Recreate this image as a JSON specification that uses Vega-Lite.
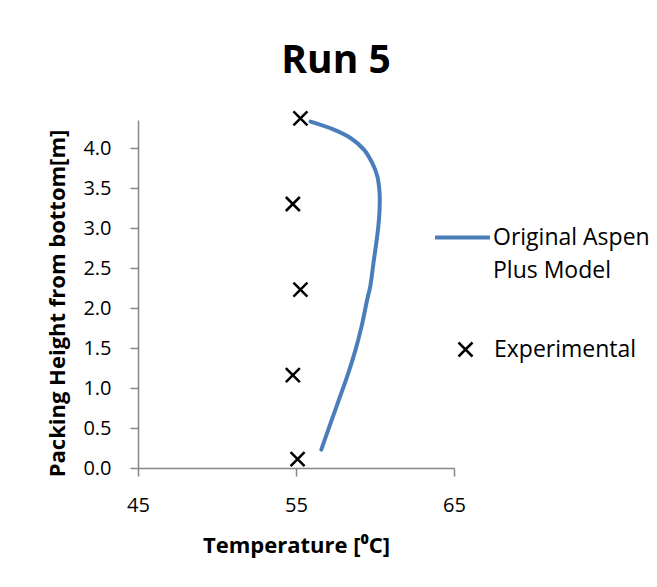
{
  "$schema": "https://vega.github.io/schema/vega-lite/v6.json",
  "width": 316,
  "height": 348,
  "autosize": {"type": "none"},
  "padding": {"left": 138, "top": 120, "right": 203, "bottom": 119},
  "background": "white",
  "title": {
    "text": "Run 5",
    "font": "Open Sans",
    "fontSize": 39,
    "fontWeight": "bold",
    "color": "black",
    "anchor": "middle",
    "frame": "group",
    "dx": 40,
    "dy": 53,
    "baseline": "alphabetic",
    "offset": 47
  },
  "config": {
    "font": "Open Sans",
    "view": {"stroke": null},
    "axis": {
      "domainColor": "#868686",
      "domainWidth": 1.5,
      "tickColor": "#868686",
      "tickWidth": 1.5,
      "tickSize": 8,
      "grid": false,
      "labelFlush": false,
      "labelOverlap": false,
      "labelFont": "Open Sans",
      "labelFontSize": 20,
      "labelColor": "black",
      "titleFont": "Open Sans",
      "titleFontSize": 22,
      "titleFontWeight": "bold",
      "titleColor": "black"
    },
    "legend": {
      "labelFont": "Open Sans",
      "labelFontSize": 23,
      "labelColor": "black",
      "labelLimit": 300,
      "padding": 0,
      "title": null
    }
  },
  "layer": [
    {
      "data": {
        "values": [
          {"series": "Original Aspen Plus Model", "step": 1, "temperature": 56.60, "height": 0.23},
          {"series": "Original Aspen Plus Model", "step": 2, "temperature": 57.19, "height": 0.56},
          {"series": "Original Aspen Plus Model", "step": 3, "temperature": 57.71, "height": 0.85},
          {"series": "Original Aspen Plus Model", "step": 4, "temperature": 58.24, "height": 1.145},
          {"series": "Original Aspen Plus Model", "step": 5, "temperature": 58.77, "height": 1.48},
          {"series": "Original Aspen Plus Model", "step": 6, "temperature": 59.15, "height": 1.77},
          {"series": "Original Aspen Plus Model", "step": 7, "temperature": 59.50, "height": 2.10},
          {"series": "Original Aspen Plus Model", "step": 8, "temperature": 59.70, "height": 2.27},
          {"series": "Original Aspen Plus Model", "step": 9, "temperature": 59.90, "height": 2.56},
          {"series": "Original Aspen Plus Model", "step": 10, "temperature": 60.08, "height": 2.81},
          {"series": "Original Aspen Plus Model", "step": 11, "temperature": 60.21, "height": 3.02},
          {"series": "Original Aspen Plus Model", "step": 12, "temperature": 60.29, "height": 3.23},
          {"series": "Original Aspen Plus Model", "step": 13, "temperature": 60.29, "height": 3.44},
          {"series": "Original Aspen Plus Model", "step": 14, "temperature": 60.15, "height": 3.645},
          {"series": "Original Aspen Plus Model", "step": 15, "temperature": 59.83, "height": 3.81},
          {"series": "Original Aspen Plus Model", "step": 16, "temperature": 59.30, "height": 3.98},
          {"series": "Original Aspen Plus Model", "step": 17, "temperature": 58.45, "height": 4.125},
          {"series": "Original Aspen Plus Model", "step": 18, "temperature": 57.40, "height": 4.23},
          {"series": "Original Aspen Plus Model", "step": 19, "temperature": 55.92, "height": 4.33}
        ]
      },
      "mark": {"type": "line", "strokeWidth": 4, "strokeCap": "round", "interpolate": "catmull-rom"},
      "encoding": {
        "x": {
          "field": "temperature", "type": "quantitative",
          "scale": {"domain": [45, 65], "nice": false, "zero": false},
          "axis": {
            "values": [45, 55, 65],
            "title": "Temperature [⁰C]",
            "labelPadding": 19,
            "titleBaseline": "alphabetic",
            "titleY": 84
          }
        },
        "y": {
          "field": "height", "type": "quantitative",
          "scale": {"domain": [0, 4.35], "nice": false},
          "axis": {
            "values": [0, 0.5, 1, 1.5, 2, 2.5, 3, 3.5, 4],
            "format": ".1f",
            "title": "Packing Height from bottom[m]",
            "labelPadding": 19,
            "titleBaseline": "alphabetic",
            "titleX": -74,
            "titleY": 183
          }
        },
        "order": {"field": "step", "type": "quantitative"},
        "stroke": {
          "field": "series", "type": "nominal",
          "scale": {"domain": ["Original Aspen Plus Model"], "range": ["#4a7ebb"]},
          "legend": {
            "orient": "none",
            "legendX": 295,
            "legendY": 88,
            "symbolType": "stroke",
            "symbolSize": 3025,
            "symbolStrokeWidth": 4,
            "labelOffset": 1,
            "labelExpr": "datum.label == 'Original Aspen Plus Model' ? ['Original Aspen', 'Plus Model'] : datum.label",
            "encode": {"labels": {"update": {"lineHeight": {"value": 33}}}}
          }
        }
      }
    },
    {
      "data": {
        "values": [
          {"series": "Experimental", "temperature": 55.10, "height": 0.11},
          {"series": "Experimental", "temperature": 54.80, "height": 1.16},
          {"series": "Experimental", "temperature": 55.28, "height": 2.23},
          {"series": "Experimental", "temperature": 54.80, "height": 3.30},
          {"series": "Experimental", "temperature": 55.28, "height": 4.37}
        ]
      },
      "mark": {"type": "point", "filled": false, "color": "black", "strokeWidth": 2.5, "size": 196, "opacity": 1},
      "encoding": {
        "x": {"field": "temperature", "type": "quantitative"},
        "y": {"field": "height", "type": "quantitative"},
        "shape": {
          "field": "series", "type": "nominal",
          "scale": {"domain": ["Experimental"], "range": ["M-1,-1L1,1M-1,1L1,-1"]},
          "legend": {
            "orient": "none",
            "legendX": 316,
            "legendY": 218,
            "symbolSize": 196,
            "symbolStrokeWidth": 2.5,
            "symbolStrokeColor": "black",
            "symbolFillColor": "transparent",
            "labelOffset": 17
          }
        }
      }
    }
  ]
}
